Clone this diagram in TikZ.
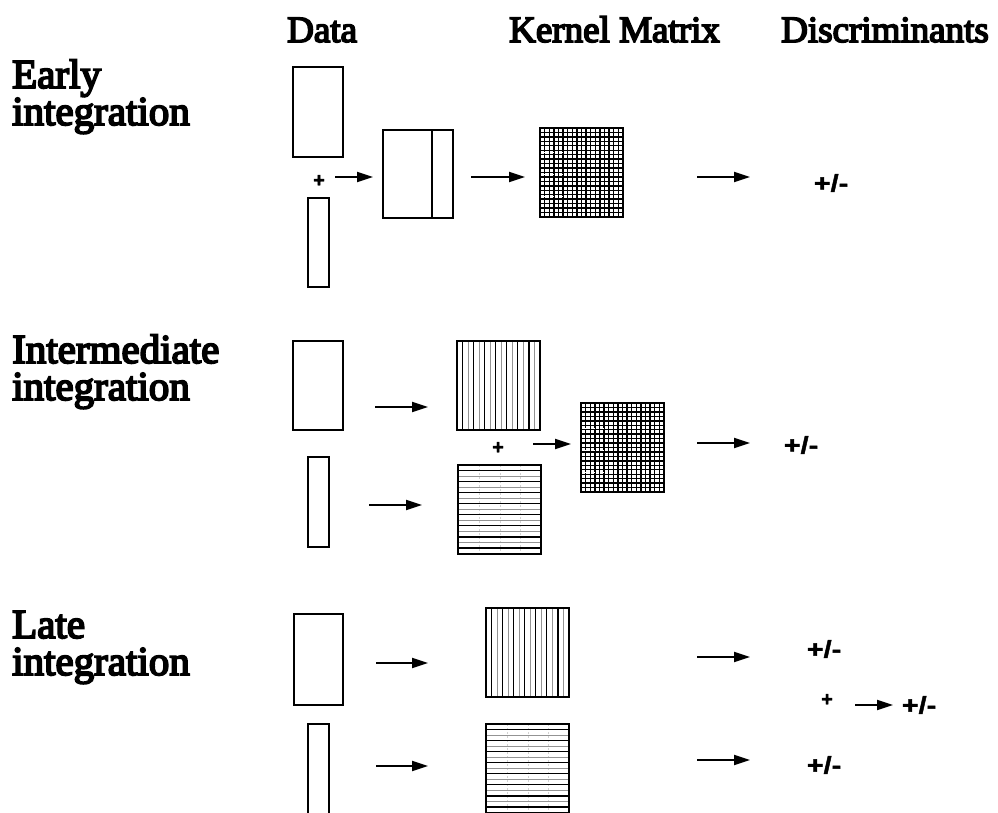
\documentclass[tikz,border=0pt]{standalone}
\usepackage{fontspec}
\usetikzlibrary{arrows.meta}
\newfontfamily\lblfont{Liberation Serif}[BoldFont={Liberation Serif}, BoldFeatures={FakeBold=4.5}]
\newfontfamily\pmfont{Liberation Sans}[BoldFont={Liberation Sans Bold}, BoldFeatures={FakeBold=1.5}]
\tikzset{
  hdr/.style={font=\lblfont\bfseries\fontsize{37}{40}\selectfont, anchor=base west, inner sep=0pt},
  rowlbl/.style={font=\lblfont\bfseries\fontsize{41}{43}\selectfont, anchor=base west, inner sep=0pt},
  pm/.style={font=\pmfont\bfseries\fontsize{24}{26}\selectfont, inner sep=0pt},
  smallplus/.style={font=\pmfont\bfseries\fontsize{20}{22}\selectfont, inner sep=0pt},
  arr/.style={line width=2pt, -{Triangle[length=16pt,width=10pt]}},
  databox/.style={line width=2pt},
  vmat/.pic={
    \foreach \k in {1,3,...,13} \draw[line width=1.3pt] ({\k*5.53},0) -- ({\k*5.53},89);
    \foreach \k in {2,4,...,14} \draw[line width=1.1pt, gray!85] ({\k*5.53},0) -- ({\k*5.53},89);
    \draw[line width=2.4pt] (0,0) rectangle (83,89);
  },
  hmat/.pic={
    \foreach \x in {21,42,62} \draw[line width=0.6pt, gray!35, dash pattern=on 2pt off 2pt] (\x,0) -- (\x,89);
    \foreach \k in {1,3,...,15} \draw[line width=1.3pt] (0,{\k*5.53}) -- (83,{\k*5.53});
    \foreach \k in {2,4,...,14} \draw[line width=1.1pt, gray!85] (0,{\k*5.53}) -- (83,{\k*5.53});
    \draw[line width=2.4pt] (0,0) rectangle (83,89);
  },
  gmat/.pic={
    \foreach \k in {1,...,17} \draw[line width=1.4pt] ({\k*83/18},0) -- ({\k*83/18},89);
    \foreach \k in {1,...,19} \draw[line width=1.4pt] (0,{\k*89/20}) -- (83,{\k*89/20});
    \foreach \y in {25,47,69} \draw[line width=1pt, white, dash pattern=on 1.5pt off 3pt] (3,\y) -- (80,\y);
    \draw[line width=2.4pt] (0,0) rectangle (83,89);
  }
}
\begin{document}
\begin{tikzpicture}[x=1pt,y=-1pt]
\useasboundingbox (0,0) rectangle (998,813);

% headers
\node[hdr] (hdata) at (287,42) {Data};
\node[hdr] (hkern) at (509,42) {Kernel Matrix};
\node[hdr] (hdisc) at (781,42) {Discriminants};

% row labels
\node[rowlbl] (early1) at (12,88) {Early};
\node[rowlbl] (early2) at (12,125) {integration};
\node[rowlbl] (inter1) at (12,363) {Intermediate};
\node[rowlbl] (inter2) at (12,400) {integration};
\node[rowlbl] (late1) at (12,638) {Late};
\node[rowlbl] (late2) at (12,675) {integration};

% ---------- Early integration ----------
\draw[databox] (293,67) rectangle (343,157);
\draw[databox] (308,198) rectangle (329,287);
\node[smallplus] (p1) at (319,181) {+};
\draw[databox] (383,130) rectangle (453,218);
\draw[databox] (432,130) -- (432,218);
\pic (g1) at (540,128) {gmat};
\node[pm] (d1) at (831,183) {\scalebox{1.2}[1]{+/-}};
\coordinate (a1s) at (335,177); \coordinate (a1e) at (373,177);
\coordinate (a2s) at (471,177); \coordinate (a2e) at (525,177);
\coordinate (a3s) at (697,177); \coordinate (a3e) at (750,177);
\draw[arr] (a1s) -- (a1e);
\draw[arr] (a2s) -- (a2e);
\draw[arr] (a3s) -- (a3e);

% ---------- Intermediate integration ----------
\draw[databox] (293,341) rectangle (343,430);
\draw[databox] (308,457) rectangle (329,547);
\pic (v2) at (457,341) {vmat};
\pic (h2) at (458,465) {hmat};
\node[smallplus] (p2) at (498,448) {+};
\pic (g2) at (581,403) {gmat};
\node[pm] (d2) at (801,445) {\scalebox{1.2}[1]{+/-}};
\coordinate (b1s) at (375,407); \coordinate (b1e) at (428,407);
\coordinate (b2s) at (369,505); \coordinate (b2e) at (422,505);
\coordinate (b3s) at (533,444); \coordinate (b3e) at (571,444);
\coordinate (b4s) at (697,443); \coordinate (b4e) at (750,443);
\draw[arr] (b1s) -- (b1e);
\draw[arr] (b2s) -- (b2e);
\draw[arr] (b3s) -- (b3e);
\draw[arr] (b4s) -- (b4e);

% ---------- Late integration ----------
\draw[databox] (294,614) rectangle (343,705);
\draw[databox] (308,724) rectangle (329,816);
\pic (v3) at (486,608) {vmat};
\pic (h3) at (486,724) {hmat};
\node[pm] (d3a) at (824,649) {\scalebox{1.2}[1]{+/-}};
\node[smallplus] (p3) at (827,700) {+};
\node[pm] (d3c) at (919,705) {\scalebox{1.2}[1]{+/-}};
\node[pm] (d3b) at (824,765) {\scalebox{1.2}[1]{+/-}};
\coordinate (c1s) at (376,663); \coordinate (c1e) at (428,663);
\coordinate (c2s) at (376,766); \coordinate (c2e) at (428,766);
\coordinate (c3s) at (697,657); \coordinate (c3e) at (750,657);
\coordinate (c4s) at (697,760); \coordinate (c4e) at (750,760);
\coordinate (c5s) at (855,705); \coordinate (c5e) at (893,705);
\draw[arr] (c1s) -- (c1e);
\draw[arr] (c2s) -- (c2e);
\draw[arr] (c3s) -- (c3e);
\draw[arr] (c4s) -- (c4e);
\draw[arr] (c5s) -- (c5e);
\end{tikzpicture}
\end{document}
